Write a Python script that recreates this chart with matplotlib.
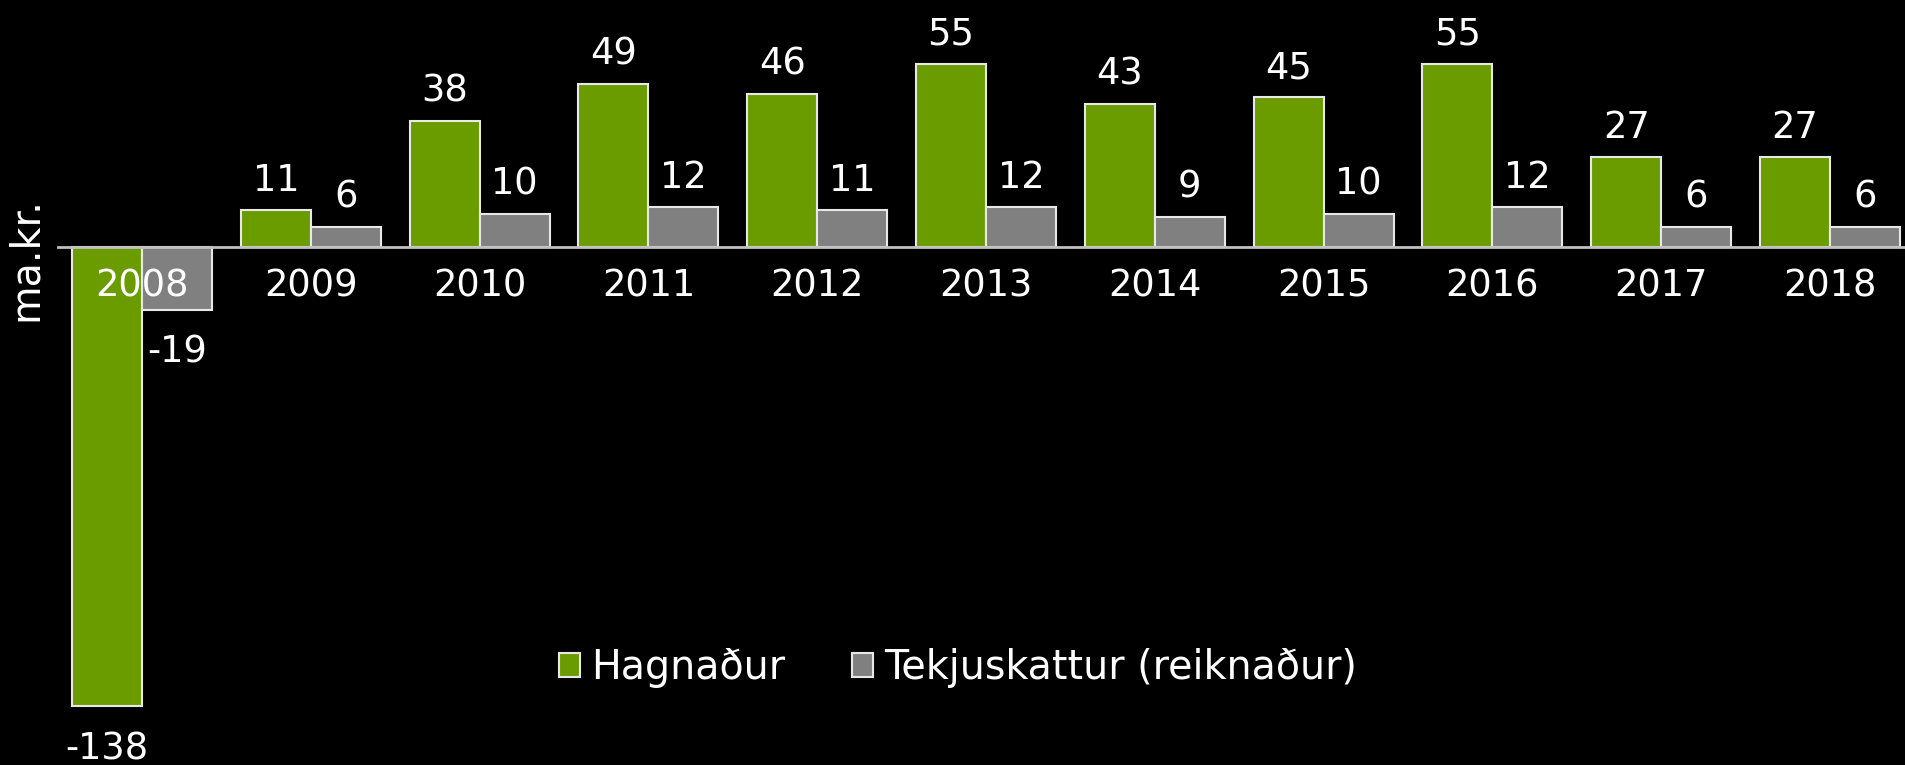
import matplotlib
matplotlib.use("Agg")
import matplotlib.pyplot as plt
import numpy as np
from matplotlib.patches import Patch

years = ["2008", "2009", "2010", "2011", "2012", "2013", "2014", "2015", "2016", "2017", "2018"]
hagnadur = [-138, 11, 38, 49, 46, 55, 43, 45, 55, 27, 27]
tekjuskattur = [-19, 6, 10, 12, 11, 12, 9, 10, 12, 6, 6]
series_names = ["Hagnaður", "Tekjuskattur (reiknaður)"]
colors = ["#6a9c00", "#808080"]

plt.rcParams['font.family'] = ['DejaVu Sans']
W, H = 1905, 765
fig = plt.figure(figsize=(W/100, H/100), dpi=100, facecolor='black')
ax = fig.add_axes([58/W, 0, 1 - 58/W, 1])
ax.set_facecolor('black')

x = np.arange(len(years))
bw = 0.4147
fs = 26.5
for vals, off, col in [(hagnadur, -bw/2, colors[0]), (tekjuskattur, bw/2, colors[1])]:
    bars = ax.bar(x + off, vals, bw, color=col, edgecolor='#e8e8e8', linewidth=1.5, zorder=1)
    for b, v in zip(bars, vals):
        cx = b.get_x() + b.get_width()/2
        if v >= 0:
            ax.annotate(str(v), (cx, v), xytext=(0, 8), textcoords='offset points',
                        ha='center', va='bottom', color='white', fontsize=fs)
        else:
            ax.annotate(str(v), (cx, v), xytext=(0, -17), textcoords='offset points',
                        ha='center', va='top', color='white', fontsize=fs)

ax.set_xlim(-0.4976, 10.444)
ax.set_ylim(-155.6, 74.2)
ax.set_xticks(x)
ax.set_xticklabels(years)
ax.tick_params(axis='x', length=0, pad=15, labelsize=fs, colors='white')
ax.set_yticks([])
for name, s in ax.spines.items():
    s.set_visible(False)
ax.spines['bottom'].set_position(('data', 0))
ax.spines['bottom'].set_visible(True)
ax.spines['bottom'].set_color('#c0c0c0')
ax.spines['bottom'].set_linewidth(2)
for lbl in ax.get_xticklabels():
    lbl.set_zorder(5)

fig.text(26/W, 1 - 259/H, "ma.kr.", rotation=90, color='white', fontsize=28.5,
         ha='center', va='center')

handles = [Patch(facecolor=colors[0], edgecolor='#e8e8e8', linewidth=1.5),
           Patch(facecolor=colors[1], edgecolor='#e8e8e8', linewidth=1.5)]
lfs = 28.5
leg = fig.legend(handles, series_names, loc='center', bbox_to_anchor=(958/W, 1 - 668/H),
                 ncol=2, frameon=False, fontsize=lfs, handlelength=0.53, handleheight=0.56,
                 handletextpad=0.28, columnspacing=1.67, labelcolor='white',
                 borderpad=0, borderaxespad=0)

fig.savefig("out.png", dpi=100, facecolor='black')
